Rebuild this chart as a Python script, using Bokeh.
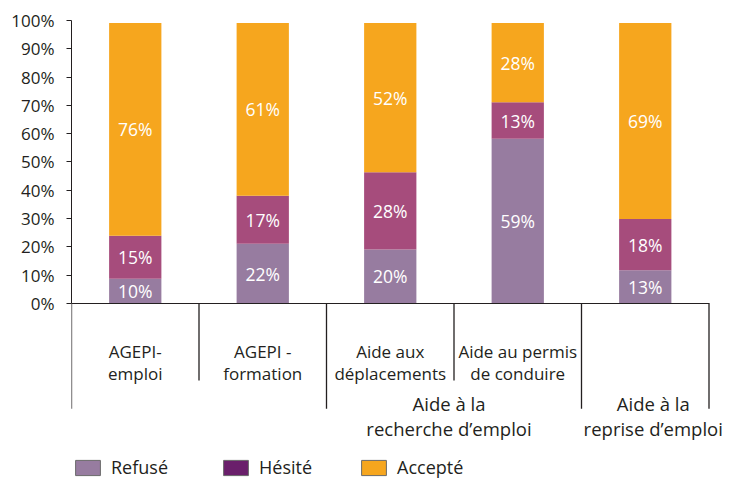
import numpy as np
from bokeh.plotting import figure
from bokeh.models import (ColumnDataSource, Range1d, LinearAxis, FixedTicker,
                          PrintfTickFormatter, Legend, LegendItem)
from bokeh.core.properties import value
from bokeh.embed import file_html
from bokeh.resources import INLINE

# ---- data ----
categories = ["AGEPI-\nemploi", "AGEPI -\nformation", "Aide aux\ndéplacements",
              "Aide au permis\nde conduire", ""]
groups = ["", "", "Aide à la\nrecherche d’emploi", "Aide à la\nrecherche d’emploi",
          "Aide à la\nreprise d’emploi"]
series_names = ["Refusé", "Hésité", "Accepté"]

# bar heights as drawn (%)
refuse = [8.7, 21.1, 19.1, 58.2, 11.7]
hesite = [15.2, 17.0, 27.3, 12.9, 18.1]
accepte = [75.2, 61.0, 52.7, 28.0, 69.3]

# printed labels (%)
refuse_lbl = [10, 22, 20, 59, 13]
hesite_lbl = [15, 17, 28, 13, 18]
accepte_lbl = [76, 61, 52, 28, 69]

yticks = list(range(0, 101, 10))

# ---- styling ----
FONT = "Open Sans"
TXT = "#231F20"
bar_colors = ["#977CA0", "#A64C7C", "#F6A61E"]
legend_colors = ["#977CA0", "#6A1F6B", "#F6A61E"]
group_label_nudge_px = [-5, 8]

n = len(categories)
xc = np.arange(n) + 0.5

src = ColumnDataSource(dict(x=xc, refuse=refuse, hesite=hesite, accepte=accepte))

p = figure(frame_width=652, frame_height=464,
           x_range=Range1d(0, 652 / 127.5), y_range=Range1d(-64, 100),
           output_backend="svg", toolbar_location=None,
           x_axis_location=None, y_axis_location=None,
           min_border_left=71, min_border_top=20, min_border_right=5,
           min_border_bottom=2)
p.outline_line_color = None
p.xgrid.visible = False
p.ygrid.visible = False

p.vbar_stack(["refuse", "hesite", "accepte"], x="x", width=0.41,
             color=bar_colors, line_color=None, source=src)

# bar labels
vals = np.array([refuse, hesite, accepte])
cum = np.cumsum(vals, axis=0)
mids = cum - vals / 2
lbls = [refuse_lbl, hesite_lbl, accepte_lbl]
for k in range(3):
    p.text(x=xc, y=mids[k], text=[f"{v}%" for v in lbls[k]],
           text_color="white", text_align="center", text_baseline="middle",
           text_font=value(FONT), text_font_size="17.5px")

# y axis
yaxis = LinearAxis(bounds=(0, 100), ticker=FixedTicker(ticks=yticks),
                   formatter=PrintfTickFormatter(format="%d%%"))
yaxis.major_tick_out = 5
yaxis.major_tick_in = 0
yaxis.minor_tick_out = 0
yaxis.minor_tick_in = 0
yaxis.major_label_standoff = 12
yaxis.major_label_text_font = FONT
yaxis.major_label_text_font_size = "17px"
yaxis.major_label_text_color = TXT
yaxis.axis_line_color = TXT
yaxis.major_tick_line_color = TXT
p.add_layout(yaxis, "left")

# category axis at y = 0
xaxis = LinearAxis(fixed_location=0, bounds=(0, n),
                   ticker=FixedTicker(ticks=list(xc)),
                   major_label_overrides={float(x): c for x, c in zip(xc, categories)})
xaxis.major_tick_out = 0
xaxis.major_tick_in = 0
xaxis.minor_tick_out = 0
xaxis.minor_tick_in = 0
xaxis.major_label_standoff = 37
xaxis.major_label_text_font = FONT
xaxis.major_label_text_font_size = "17px"
xaxis.major_label_text_line_height = 0.92
xaxis.major_label_text_color = TXT
xaxis.axis_line_color = TXT
p.add_layout(xaxis, "below")

# separators: long at group boundaries, short inside groups
bounds_x = np.arange(n + 1)
long_sep = [True] + [groups[i] != groups[i - 1] for i in range(1, n)] + [True]
sep_len = np.where(long_sep, 37.2, 27.2)
p.segment(x0=bounds_x, y0=np.zeros(n + 1), x1=bounds_x, y1=-sep_len,
          line_color=TXT, line_width=1.3)

# group labels
gnames, gcenters = [], []
i = 0
while i < n:
    j = i
    while j + 1 < n and groups[j + 1] == groups[i]:
        j += 1
    if groups[i]:
        gnames.append(groups[i])
        gcenters.append((i + j + 1) / 2)
    i = j + 1
gsrc = ColumnDataSource(dict(x=gcenters, y=[-39.9] * len(gnames), text=gnames,
                             dx=group_label_nudge_px[:len(gnames)]))
p.text(x="x", y="y", text="text", x_offset="dx", source=gsrc,
       text_align="center", text_baseline="middle", text_font=value(FONT),
       text_font_size="18.5px", text_line_height=1.0, text_color=TXT)

# legend (separate items placed individually)
leg_x = [1, 149, 287]
for name, col, lx in zip(series_names, legend_colors, leg_x):
    r = p.vbar(x=[np.nan], top=[np.nan], width=0.4, fill_color=col,
               line_color="#6a6a6a", line_width=1)
    leg = Legend(items=[LegendItem(label=name, renderers=[r])],
                 location=(lx, 5), orientation="horizontal", padding=0,
                 margin=0, border_line_color=None, background_fill_alpha=0,
                 glyph_width=31, glyph_height=19, label_height=19,
                 label_standoff=8, label_text_font=FONT,
                 label_text_font_size="18px", label_text_color=TXT)
    p.add_layout(leg)

open("out.html", "w").write(file_html(p, INLINE))
